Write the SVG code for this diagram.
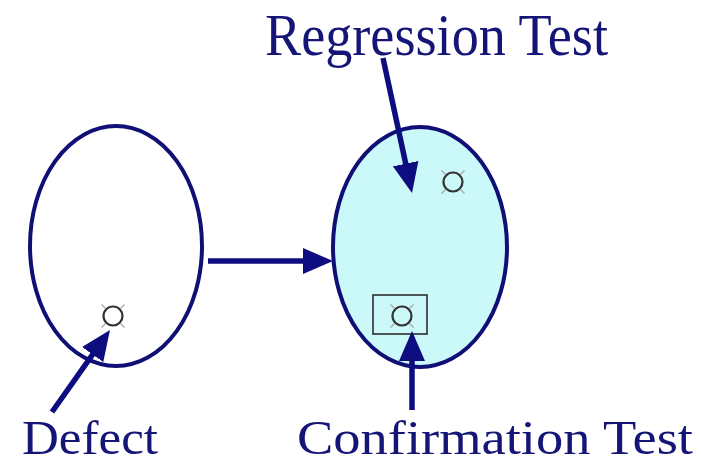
<svg xmlns="http://www.w3.org/2000/svg" width="701" height="465" viewBox="0 0 701 465">
  <defs>
    <style>
      .oval { stroke: #0f0f75; stroke-width: 4; }
      .conn { stroke: #0d0d80; stroke-width: 5.5; fill: none; marker-end: url(#head); }
      .label { font-family: "Liberation Serif", "Times New Roman", serif; fill: #151578; }
      .dot { fill: none; stroke: #333; stroke-width: 2.2; }
      .tick { stroke: #a8a8a8; stroke-width: 1.2; }
    </style>
    <marker id="head" markerUnits="userSpaceOnUse" markerWidth="30" markerHeight="26" refX="20" refY="13" orient="auto">
      <path d="M0,0 L30,13 L0,26 z" fill="#0d0d80"/>
    </marker>
    <g id="sym">
      <circle class="dot" cx="0" cy="0" r="9.5"/>
      <line class="tick" x1="-7.5" y1="-7.5" x2="-11.5" y2="-11.5"/>
      <line class="tick" x1="7.5" y1="-7.5" x2="11.5" y2="-11.5"/>
      <line class="tick" x1="-7.5" y1="7.5" x2="-11.5" y2="11.5"/>
      <line class="tick" x1="7.5" y1="7.5" x2="11.5" y2="11.5"/>
    </g>
  </defs>
  <rect width="701" height="465" fill="#ffffff"/>

  <g id="before">
    <ellipse class="oval" cx="116" cy="246" rx="86" ry="120" fill="#ffffff"/>
    <use href="#sym" x="113" y="316"/>
  </g>

  <g id="after">
    <ellipse class="oval" cx="420" cy="247" rx="87" ry="120" fill="#cbf8f8"/>
    <use href="#sym" x="453" y="182"/>
    <rect x="373" y="295" width="54" height="39" fill="none" stroke="#222" stroke-width="1.5"/>
    <use href="#sym" x="402" y="316"/>
  </g>

  <g id="connectors">
    <line class="conn" x1="208" y1="261" x2="323" y2="261"/>
    <line class="conn" x1="52" y1="412" x2="104.2" y2="338.2"/>
    <line class="conn" x1="383" y1="58" x2="409.9" y2="183.2"/>
    <line class="conn" x1="412" y1="410" x2="412" y2="341"/>
  </g>

  <g id="label-regression">
    <text class="label" x="265" y="55" font-size="60" textLength="343" lengthAdjust="spacingAndGlyphs">Regression Test</text>
  </g>
  <g id="label-defect">
    <text class="label" x="22" y="454" font-size="49" textLength="136" lengthAdjust="spacingAndGlyphs">Defect</text>
  </g>
  <g id="label-confirmation">
    <text class="label" x="297" y="454" font-size="49" textLength="396" lengthAdjust="spacingAndGlyphs">Confirmation Test</text>
  </g>
</svg>
